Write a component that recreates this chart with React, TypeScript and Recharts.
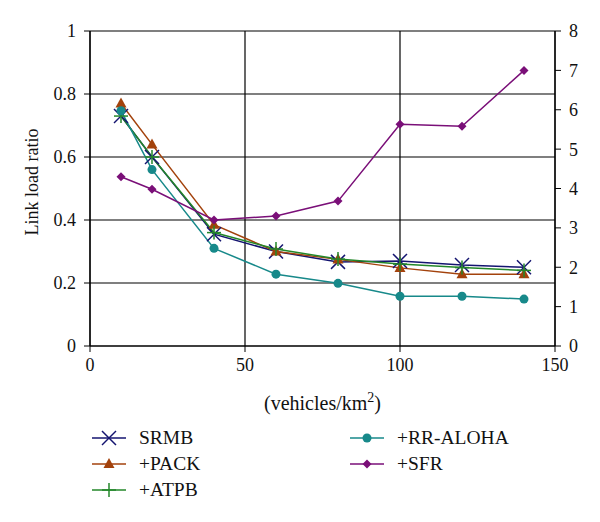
import React from 'react';
import { LineChart, Line, XAxis, YAxis, CartesianGrid } from 'recharts';

const xValues = [10, 20, 40, 60, 80, 100, 120, 140];
const srmb = [0.73, 0.6, 0.355, 0.3, 0.267, 0.27, 0.257, 0.25];
const pack = [0.77, 0.64, 0.385, 0.3, 0.275, 0.248, 0.228, 0.228];
const atpb = [0.73, 0.6, 0.36, 0.308, 0.276, 0.26, 0.249, 0.24];
const rrAloha = [0.747, 0.56, 0.31, 0.228, 0.199, 0.158, 0.158, 0.149];
const sfr = [4.3, 3.98, 3.2, 3.3, 3.68, 5.63, 5.58, 7.0];

const xTicks = [0, 50, 100, 150];
const leftTicks = [0, 0.2, 0.4, 0.6, 0.8, 1];
const rightTicks = [0, 1, 2, 3, 4, 5, 6, 7, 8];

const FONT = '"Liberation Serif"';

type Marker = 'cross' | 'triangle' | 'plus' | 'circle' | 'diamond';

interface SeriesDef {
  key: string;
  name: string;
  color: string;
  marker: Marker;
  axis: 'left' | 'right';
}

const series: SeriesDef[] = [
  { key: 'srmb', name: 'SRMB', color: '#141470', marker: 'cross', axis: 'left' },
  { key: 'pack', name: '+PACK', color: '#a3420c', marker: 'triangle', axis: 'left' },
  { key: 'atpb', name: '+ATPB', color: '#23872a', marker: 'plus', axis: 'left' },
  { key: 'rrAloha', name: '+RR-ALOHA', color: '#17898a', marker: 'circle', axis: 'left' },
  { key: 'sfr', name: '+SFR', color: '#7a0f78', marker: 'diamond', axis: 'right' },
];

const chartData = xValues.map((x, i) => ({
  x,
  srmb: srmb[i],
  pack: pack[i],
  atpb: atpb[i],
  rrAloha: rrAloha[i],
  sfr: sfr[i],
}));

function MarkerShape({ cx, cy, kind, color }: { cx: number; cy: number; kind: Marker; color: string }) {
  if (cx == null || cy == null) return null;
  switch (kind) {
    case 'cross':
      return (
        <g stroke={color} strokeWidth={1.5}>
          <line x1={cx - 7} y1={cy - 7} x2={cx + 7} y2={cy + 7} />
          <line x1={cx - 7} y1={cy + 7} x2={cx + 7} y2={cy - 7} />
        </g>
      );
    case 'triangle':
      return <polygon points={`${cx},${cy - 6} ${cx + 5.5},${cy + 4} ${cx - 5.5},${cy + 4}`} fill={color} />;
    case 'plus':
      return (
        <g stroke={color} strokeWidth={1.5}>
          <line x1={cx - 7} y1={cy} x2={cx + 7} y2={cy} />
          <line x1={cx} y1={cy - 7} x2={cx} y2={cy + 7} />
        </g>
      );
    case 'circle':
      return <circle cx={cx} cy={cy} r={4.5} fill={color} />;
    case 'diamond':
      return <polygon points={`${cx},${cy - 4.5} ${cx + 4.5},${cy} ${cx},${cy + 4.5} ${cx - 4.5},${cy}`} fill={color} />;
  }
  return null;
}

function LegendItem({ s, left, top }: { s: SeriesDef; left: number; top: number }) {
  return (
    <div style={{ position: 'absolute', left, top, display: 'flex', alignItems: 'center', height: 24 }}>
      <svg width={36} height={24}>
        <line x1={1} y1={12} x2={35} y2={12} stroke={s.color} strokeWidth={1.5} />
        <MarkerShape cx={18} cy={12} kind={s.marker} color={s.color} />
      </svg>
      <span style={{ marginLeft: 12, fontFamily: FONT, fontSize: 19.5, color: '#111' }}>{s.name}</span>
    </div>
  );
}

export default function App() {
  const tickStyle = { fontSize: 18, fill: '#111', fontFamily: FONT };
  const legendPos = [
    { left: 91, top: 426 },
    { left: 91, top: 452 },
    { left: 91, top: 478 },
    { left: 349, top: 426 },
    { left: 349, top: 452 },
  ];

  return (
    <div style={{ position: 'absolute', left: 0, top: 0, width: 600, height: 522, background: '#fff' }}>
      <LineChart width={600} height={522} data={chartData} margin={{ top: 31, right: 0, left: 0, bottom: 146 }}>
        <CartesianGrid stroke="#000" strokeWidth={1.2} yAxisId="left" />
        <XAxis
          dataKey="x"
          type="number"
          domain={[0, 150]}
          ticks={xTicks}
          height={30}
          tick={tickStyle}
          tickLine={{ stroke: '#000' }}
          axisLine={{ stroke: '#000', strokeWidth: 1.2 }}
          tickMargin={6}
          label={({ viewBox }: any) => (
            <text
              x={viewBox.x + viewBox.width / 2}
              y={viewBox.y + 64}
              textAnchor="middle"
              fontFamily={FONT}
              fontSize={20}
              fill="#111"
            >
              (vehicles/km
              <tspan dy={-8} fontSize={14}>2</tspan>
              <tspan dy={8}>)</tspan>
            </text>
          )}
        />
        <YAxis
          yAxisId="left"
          domain={[0, 1]}
          ticks={leftTicks}
          width={90}
          tick={tickStyle}
          tickLine={{ stroke: '#000' }}
          axisLine={{ stroke: '#000', strokeWidth: 1.2 }}
          tickMargin={8}
          label={() => (
            <text
              x={34}
              y={182}
              transform="rotate(-90, 34, 182)"
              textAnchor="middle"
              dominantBaseline="middle"
              fontFamily={FONT}
              fontSize={18}
              fill="#111"
            >
              Link load ratio
            </text>
          )}
        />
        <YAxis
          yAxisId="right"
          orientation="right"
          domain={[0, 8]}
          ticks={rightTicks}
          width={45}
          tick={tickStyle}
          tickLine={{ stroke: '#000' }}
          axisLine={{ stroke: '#000', strokeWidth: 1.2 }}
          tickMargin={8}
        />
        {series.map((s) => (
          <Line
            key={s.key}
            yAxisId={s.axis}
            type="linear"
            dataKey={s.key}
            name={s.name}
            stroke={s.color}
            strokeWidth={1.5}
            isAnimationActive={false}
            dot={(p: any) => <MarkerShape key={`${s.key}-${p.index}`} cx={p.cx} cy={p.cy} kind={s.marker} color={s.color} />}
            activeDot={false}
          />
        ))}
      </LineChart>
      {series.map((s, i) => (
        <LegendItem key={s.key} s={s} left={legendPos[i].left} top={legendPos[i].top} />
      ))}
    </div>
  );
}
